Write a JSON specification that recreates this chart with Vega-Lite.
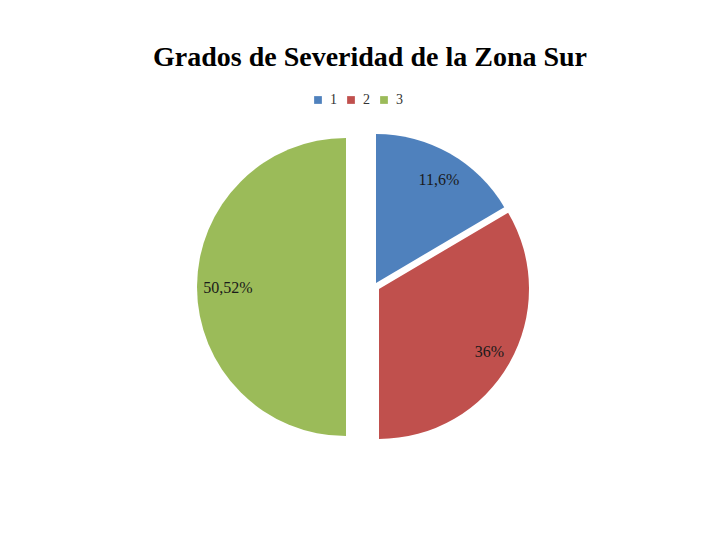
{
  "$schema": "https://vega.github.io/schema/vega-lite/v6.json",
  "width": 700,
  "height": 346,
  "padding": {"left": 12, "right": 8, "top": 44, "bottom": 0},
  "background": "white",
  "title": {
    "text": "Grados de Severidad de la Zona Sur",
    "font": "Liberation Serif",
    "fontSize": 28,
    "fontWeight": "bold",
    "color": "#000000",
    "anchor": "middle",
    "dx": 8,
    "offset": 21
  },
  "data": {
    "values": [
      {"cat": "1", "share": 16.5, "label": "11,6%"},
      {"cat": "2", "share": 33.5, "label": "36%"},
      {"cat": "3", "share": 50, "label": "50,52%"}
    ]
  },
  "encoding": {
    "theta": {"field": "share", "type": "quantitative", "stack": true}
  },
  "layer": [
    {
      "mark": {"type": "arc", "outerRadius": 149, "xOffset": 14, "yOffset": -4},
      "encoding": {
        "color": {"field": "cat", "type": "nominal",
          "scale": {"domain": ["1", "2", "3"], "range": ["#4F81BD", "#C0504D", "#9BBB59"]},
          "legend": {"title": null, "orient": "none", "direction": "horizontal", "legendX": 299, "legendY": -21}},
        "opacity": {"condition": {"test": "datum.cat === '1'", "value": 1}, "value": 0}
      }
    },
    {
      "mark": {"type": "arc", "outerRadius": 150, "xOffset": 17, "yOffset": 2},
      "encoding": {
        "color": {"field": "cat", "type": "nominal"},
        "opacity": {"condition": {"test": "datum.cat === '2'", "value": 1}, "value": 0}
      }
    },
    {
      "mark": {"type": "arc", "outerRadius": 149, "xOffset": -16, "yOffset": 0},
      "encoding": {
        "color": {"field": "cat", "type": "nominal"},
        "opacity": {"condition": {"test": "datum.cat === '3'", "value": 1}, "value": 0}
      }
    },
    {
      "mark": {"type": "text", "radius": 121, "xOffset": 17, "yOffset": -2, "font": "Liberation Serif", "fontSize": 16, "color": "#1a1a1a"},
      "encoding": {
        "detail": {"field": "cat", "type": "nominal"},
        "text": {"condition": {"test": "datum.cat === '1'", "field": "label"}, "value": ""}
      }
    },
    {
      "mark": {"type": "text", "radius": 127, "xOffset": 17, "yOffset": 2, "font": "Liberation Serif", "fontSize": 16, "color": "#1a1a1a"},
      "encoding": {
        "detail": {"field": "cat", "type": "nominal"},
        "text": {"condition": {"test": "datum.cat === '2'", "field": "label"}, "value": ""}
      }
    },
    {
      "mark": {"type": "text", "radius": 118, "xOffset": -16, "yOffset": 1, "font": "Liberation Serif", "fontSize": 16, "color": "#1a1a1a"},
      "encoding": {
        "detail": {"field": "cat", "type": "nominal"},
        "text": {"condition": {"test": "datum.cat === '3'", "field": "label"}, "value": ""}
      }
    }
  ],
  "config": {
    "view": {"stroke": null},
    "legend": {
      "symbolType": "square",
      "symbolSize": 60,
      "symbolStrokeWidth": 0,
      "labelFont": "Liberation Serif",
      "labelFontSize": 14,
      "labelColor": "#333333",
      "columnPadding": 7,
      "labelOffset": 5
    }
  }
}
